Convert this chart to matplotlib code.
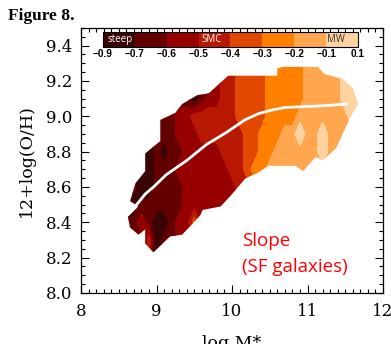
"""Slope of the metallicity gradient across the mass-metallicity plane (SF galaxies)."""
import matplotlib
matplotlib.use("Agg")
import matplotlib.pyplot as plt
import numpy as np
from matplotlib.patches import Polygon
from matplotlib.ticker import MultipleLocator

plt.rcParams["font.family"] = "DejaVu Serif"

# slope bins shared by the map and the colour bar
LEVELS = [-0.9, -0.7, -0.6, -0.5, -0.4, -0.3, -0.2, -0.1, 0.1]
BAND_COLORS = ["#3b0404", "#650000", "#960000", "#b81800",
               "#e34800", "#ff8000", "#ffa64f", "#ffd39f"]
# typical slope inside each bin; the digits in SLOPE_ROWS index this list
BAND_SLOPE = [-0.8, -0.65, -0.55, -0.45, -0.35, -0.25, -0.15, 0.0]

GRID_MASS = [8.6, 8.7, 8.8, 8.9, 9.0, 9.1, 9.2, 9.3, 9.4, 9.5, 9.6, 9.7,
             9.8, 9.9, 10.0, 10.1, 10.2, 10.3, 10.4, 10.5, 10.6, 10.7,
             10.8, 10.9, 11.0, 11.1, 11.2, 11.3, 11.4, 11.5, 11.6, 11.7]
GRID_OH = [9.3, 9.2, 9.1, 9.0, 8.9, 8.8, 8.7, 8.6, 8.5, 8.4, 8.3, 8.2]
SLOPE_ROWS = [
    "11111111111123344445555566666777",  # 9.3
    "11111111111123344445555566666777",  # 9.2
    "11111111101223344445555566666777",  # 9.1
    "11111112233333344445555666666677",  # 9.0
    "11111112223333334455566766766666",  # 8.9
    "11101011222223334455666666766666",  # 8.8
    "11001112222222334556666666666666",  # 8.7
    "11001111222222233456666666666666",  # 8.6
    "00111111222222233456666666666666",  # 8.5
    "11210012242222233456666666666666",  # 8.4
    "11130112222222233456666666666666",  # 8.3
    "11120112222222233456666666666666",  # 8.2
]

# edge of the populated region
OUTLINE_MASS = [9.95, 10.60, 10.60, 10.67, 11.14, 11.22, 11.47, 11.60, 11.67,
                11.55, 11.38, 11.20, 11.11, 10.94, 10.84, 10.48, 10.34, 10.18,
                9.98, 9.85, 9.61, 9.58, 9.34, 9.18, 8.96, 8.85, 8.85, 8.76,
                8.65, 8.62, 8.76, 8.65, 8.72, 8.85, 8.85, 9.05, 9.05, 9.25,
                9.34, 9.54, 9.69]
OUTLINE_OH = [9.23, 9.23, 9.27, 9.28, 9.28, 9.24, 9.21, 9.16, 9.07,
              8.98, 8.82, 8.75, 8.77, 8.69, 8.72, 8.72, 8.68, 8.65,
              8.55, 8.49, 8.47, 8.44, 8.33, 8.32, 8.23, 8.28, 8.36, 8.33,
              8.37, 8.43, 8.49, 8.52, 8.62, 8.69, 8.79, 8.86, 8.98, 9.02,
              9.07, 9.12, 9.13]

# mass-metallicity relation
MZR_MASS = [8.68, 8.85, 8.96, 9.13, 9.40, 9.66, 9.93, 10.17, 10.35, 10.52,
            10.70, 10.95, 11.23, 11.52]
MZR_OH = [8.47, 8.56, 8.60, 8.67, 8.75, 8.84, 8.91, 8.98, 9.015, 9.035,
          9.05, 9.055, 9.06, 9.07]

band = np.array([[int(c) for c in row] for row in SLOPE_ROWS])
slope = np.array(BAND_SLOPE)[band]

fig = plt.figure(figsize=(3.91, 3.44), dpi=100)
ax = fig.add_axes([0.2072, 0.1483, 0.7724, 0.7703])

cs = ax.contourf(GRID_MASS, GRID_OH, slope, levels=LEVELS, colors=BAND_COLORS)
region = Polygon(np.column_stack([OUTLINE_MASS, OUTLINE_OH]), closed=True,
                 transform=ax.transData)
cs.set_clip_path(region)

ax.plot(MZR_MASS, MZR_OH, color="white", linewidth=2.0)

ax.set_xlim(8, 12)
ax.set_ylim(8.0, 9.5)
ax.set_xticks([8, 9, 10, 11, 12])
ax.set_yticks([8.0, 8.2, 8.4, 8.6, 8.8, 9.0, 9.2, 9.4])
ax.xaxis.set_minor_locator(MultipleLocator(0.1))
ax.yaxis.set_minor_locator(MultipleLocator(0.05))
ax.tick_params(which="both", direction="in", top=True, right=True,
               width=0.8, labelsize=12)
ax.tick_params(which="major", length=5.5)
ax.tick_params(which="minor", length=2.8)
ax.tick_params(axis="y", pad=6.5)
ax.tick_params(axis="x", pad=7)
for s in ax.spines.values():
    s.set_linewidth(0.9)

ax.set_xlabel("log M*", fontsize=12.5)
ax.xaxis.set_label_coords(0.5, -0.16)
ax.set_ylabel("12+log(O/H)", fontsize=12.5)
ax.yaxis.set_label_coords(-0.153, 0.5)

ax.text(10.13, 8.268, "Slope", color="red", family="Open Sans",
        fontsize=13.5, va="baseline")
ax.text(10.13, 8.117, "(SF galaxies)", color="red", family="Open Sans",
        fontsize=13.5, va="baseline")

# colour bar sits inside the top of the plot
cax = fig.add_axes([0.2634, 0.8634, 0.6522, 0.0436])
cb = fig.colorbar(cs, cax=cax, orientation="horizontal", spacing="uniform")
cb.set_ticks(LEVELS, labels=[f"{v:.1f}".replace("-", "\u2212") for v in LEVELS])
cb.outline.set_linewidth(0.8)
cax.tick_params(length=0, pad=1.5)
for lab in cax.get_xticklabels():
    lab.set_fontfamily("Liberation Sans")
    lab.set_fontweight("bold")
    lab.set_fontsize(7.3)
cax.text(0.016, 0.5, "steep", transform=cax.transAxes, color="white",
         family="Open Sans", fontsize=7, va="center", ha="left")
cax.text(0.388, 0.5, "SMC", transform=cax.transAxes, color="white",
         family="Open Sans", fontsize=7, va="center", ha="left")
cax.text(0.878, 0.5, "MW", transform=cax.transAxes, color="#333333",
         family="Open Sans", fontsize=7, va="center", ha="left")

fig.text(8 / 391, 1 - 20 / 344, "Figure 8.", family="Liberation Serif",
         fontweight="bold", fontsize=12.5, va="baseline")

fig.savefig("out.png", dpi=100, facecolor="white")
